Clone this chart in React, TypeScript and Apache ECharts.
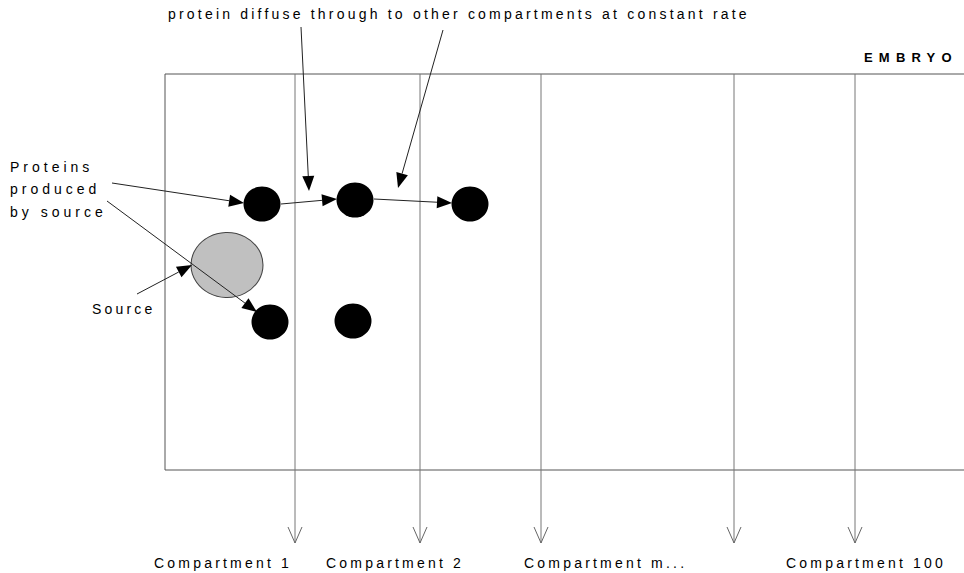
import React, { useEffect, useRef } from "react";
import * as echarts from "echarts";

const W = 964;
const H = 573;

// Diagram space: pixel-like coordinates on hidden value axes (x: 0..964, y: 0..573 downwards)
const embryoBox = [[165, 74, 968, 470]]; // x0, y0, x1, y1
const compartmentX = [295, 420, 541, 734, 855];
const compartmentTop = 74;
const compartmentTip = 543;
const compartmentLabels = ["Compartment 1", "Compartment 2", "Compartment m...", "Compartment 100"];
const compartmentLabelX = [154, 326, 524, 786];
const proteinDots = [
  [262, 204],
  [355, 200],
  [470, 204],
  [270, 322],
  [353, 321],
];
const sourceCell = [[227, 265]];
// start x, start y, tip x, tip y
const arrows = [
  [112, 183, 244, 203],
  [107, 201, 257, 312],
  [137, 294, 192, 265],
  [281, 204, 337, 199],
  [374, 199, 452, 203],
  [301, 27, 309, 191],
  [443, 30, 398, 188],
];
const titleText = "protein diffuse through to other compartments at constant rate";
const embryoText = "EMBRYO";
const proteinsText = ["Proteins", "produced", "by source"];
const sourceText = "Source";

const FONT = "'Liberation Sans', Arial, Helvetica, sans-serif";

export default function App() {
  const ref = useRef<HTMLDivElement | null>(null);

  useEffect(() => {
    if (!ref.current) return;
    document.body.style.margin = "0";
    const chart = echarts.init(ref.current, undefined, { renderer: "svg" });

    const txt = (text: string, x: number, y: number, extra: any = {}) => ({
      type: "text",
      x,
      y,
      silent: true,
      style: {
        text,
        fill: "#000",
        font: `14px ${FONT}`,
        align: "left",
        verticalAlign: "middle",
        ...extra,
      },
    });

    const graphics: any[] = [
      txt(titleText, 168, 14),
      txt(embryoText, 864, 57, { font: `bold 13px ${FONT}` }),
      txt(proteinsText[0], 10, 167),
      txt(proteinsText[1], 10, 189),
      txt(proteinsText[2], 10, 212),
      txt(sourceText, 92, 309),
      ...compartmentLabels.map((l, i) => txt(l, compartmentLabelX[i], 563)),
    ];

    chart.setOption({
      animation: false,
      backgroundColor: "#fff",
      grid: { left: 0, right: 0, top: 0, bottom: 0 },
      xAxis: { type: "value", min: 0, max: W, show: false },
      yAxis: { type: "value", min: 0, max: H, inverse: true, show: false },
      tooltip: { show: false },
      graphic: graphics,
      series: [
        {
          type: "custom",
          silent: true,
          clip: false,
          encode: { x: [0, 2], y: [1, 3] },
          data: embryoBox,
          z: 1,
          renderItem: (_p: any, api: any) => {
            const a = api.coord([api.value(0), api.value(1)]);
            const b = api.coord([api.value(2), api.value(3)]);
            return {
              type: "rect",
              shape: { x: a[0], y: a[1], width: b[0] - a[0], height: b[1] - a[1] },
              style: { fill: "none", stroke: "#555", lineWidth: 1 },
            };
          },
        },
        {
          type: "custom",
          silent: true,
          clip: false,
          encode: { x: 0, y: [1, 2] },
          data: compartmentX.map((x) => [x, compartmentTop, compartmentTip]),
          z: 2,
          renderItem: (_p: any, api: any) => {
            const a = api.coord([api.value(0), api.value(1)]);
            const b = api.coord([api.value(0), api.value(2)]);
            return {
              type: "group",
              children: [
                {
                  type: "line",
                  shape: { x1: a[0], y1: a[1], x2: b[0], y2: b[1] },
                  style: { stroke: "#777", lineWidth: 1 },
                },
                {
                  type: "polyline",
                  shape: {
                    points: [
                      [b[0] - 7, b[1] - 16],
                      [b[0], b[1]],
                      [b[0] + 7, b[1] - 16],
                    ],
                  },
                  style: { stroke: "#666", lineWidth: 1, fill: "none" },
                },
              ],
            };
          },
        },
        {
          type: "scatter",
          silent: true,
          data: sourceCell,
          symbol: "circle",
          symbolSize: [72, 65],
          itemStyle: { color: "#c0c0c0", borderColor: "#444", borderWidth: 1, opacity: 1 },
          z: 3,
        },
        {
          type: "scatter",
          silent: true,
          data: proteinDots,
          symbol: "circle",
          symbolSize: [37, 35],
          itemStyle: { color: "#000", opacity: 1 },
          z: 3,
        },
        {
          type: "custom",
          silent: true,
          clip: false,
          encode: { x: [0, 2], y: [1, 3] },
          data: arrows,
          z: 4,
          renderItem: (_p: any, api: any) => {
            const p0 = api.coord([api.value(0), api.value(1)]);
            const p1 = api.coord([api.value(2), api.value(3)]);
            const dx = p1[0] - p0[0];
            const dy = p1[1] - p0[1];
            const len = Math.hypot(dx, dy) || 1;
            const ux = dx / len;
            const uy = dy / len;
            const nx = -uy;
            const ny = ux;
            const L = 15;
            const hw = 6;
            const bx = p1[0] - ux * L;
            const by = p1[1] - uy * L;
            return {
              type: "group",
              children: [
                {
                  type: "line",
                  shape: { x1: p0[0], y1: p0[1], x2: bx, y2: by },
                  style: { stroke: "#222", lineWidth: 1 },
                },
                {
                  type: "polygon",
                  shape: {
                    points: [
                      [p1[0], p1[1]],
                      [bx + nx * hw, by + ny * hw],
                      [bx - nx * hw, by - ny * hw],
                    ],
                  },
                  style: { fill: "#000", stroke: "none" },
                },
              ],
            };
          },
        },
      ],
    });

    // letter spacing of the original lettering
    const spacing: Record<string, string> = {
      [embryoText]: "6.2px",
      [proteinsText[0]]: "4px",
      [proteinsText[1]]: "4px",
      [proteinsText[2]]: "4px",
    };
    ref.current.querySelectorAll("text").forEach((t) => {
      const s = (t.textContent || "").trim();
      (t as SVGTextElement).style.letterSpacing = spacing[s] || "3.2px";
    });

    return () => chart.dispose();
  }, []);

  return <div ref={ref} style={{ width: W, height: H, background: "#fff" }} />;
}
